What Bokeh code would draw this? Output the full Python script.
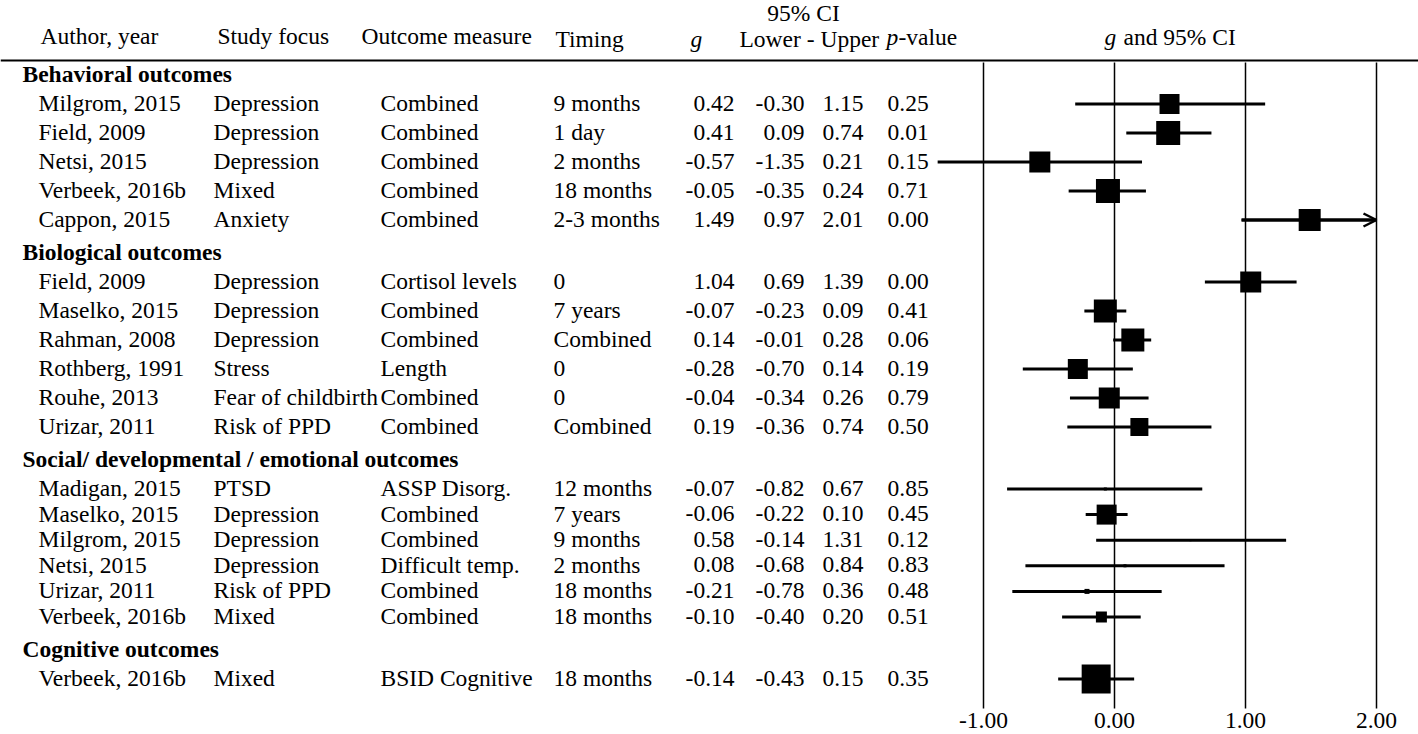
from bokeh.plotting import figure
from bokeh.models import Range1d, ColumnDataSource, Arrow, OpenHead
from bokeh.core.properties import value
from bokeh.embed import file_html
from bokeh.resources import INLINE

# ---------------- data ----------------
groups = ["Behavioral outcomes", "Biological outcomes",
          "Social/ developmental / emotional outcomes", "Cognitive outcomes"]
group_of_row = [0, 0, 0, 0, 0, 1, 1, 1, 1, 1, 1, 2, 2, 2, 2, 2, 2, 3]
authors = ["Milgrom, 2015", "Field, 2009", "Netsi, 2015", "Verbeek, 2016b", "Cappon, 2015",
           "Field, 2009", "Maselko, 2015", "Rahman, 2008", "Rothberg, 1991", "Rouhe, 2013",
           "Urizar, 2011", "Madigan, 2015", "Maselko, 2015", "Milgrom, 2015", "Netsi, 2015",
           "Urizar, 2011", "Verbeek, 2016b", "Verbeek, 2016b"]
focus = ["Depression", "Depression", "Depression", "Mixed", "Anxiety",
         "Depression", "Depression", "Depression", "Stress", "Fear of childbirth",
         "Risk of PPD", "PTSD", "Depression", "Depression", "Depression",
         "Risk of PPD", "Mixed", "Mixed"]
outcome = ["Combined", "Combined", "Combined", "Combined", "Combined",
           "Cortisol levels", "Combined", "Combined", "Length", "Combined",
           "Combined", "ASSP Disorg.", "Combined", "Combined", "Difficult temp.",
           "Combined", "Combined", "BSID Cognitive"]
timing = ["9 months", "1 day", "2 months", "18 months", "2-3 months",
          "0", "7 years", "Combined", "0", "0",
          "Combined", "12 months", "7 years", "9 months", "2 months",
          "18 months", "18 months", "18 months"]
g_vals = [0.42, 0.41, -0.57, -0.05, 1.49, 1.04, -0.07, 0.14, -0.28, -0.04,
          0.19, -0.07, -0.06, 0.58, 0.08, -0.21, -0.10, -0.14]
lower = [-0.30, 0.09, -1.35, -0.35, 0.97, 0.69, -0.23, -0.01, -0.70, -0.34,
         -0.36, -0.82, -0.22, -0.14, -0.68, -0.78, -0.40, -0.43]
upper = [1.15, 0.74, 0.21, 0.24, 2.01, 1.39, 0.09, 0.28, 0.14, 0.26,
         0.74, 0.67, 0.10, 1.31, 0.84, 0.36, 0.20, 0.15]
p_vals = [0.25, 0.01, 0.15, 0.71, 0.00, 0.00, 0.41, 0.06, 0.19, 0.79,
          0.50, 0.85, 0.45, 0.12, 0.83, 0.48, 0.51, 0.35]
weights = [20, 24, 21, 24, 22, 21, 23, 23, 20, 21, 18, 3, 20, 2, 3, 5, 11, 29]
ticks = [-1.0, 0.0, 1.0, 2.0]
tick_labels = ["-1.00", "0.00", "1.00", "2.00"]

# ---------------- layout ----------------
W, H = 1418, 734
PX0, PX_UNIT = 1114.0, 131.0          # pixel of g=0, pixels per unit g
FONT = value("Liberation Serif")
FS = "23.5px"
AX_MAX = 2.0

# row vertical positions (pixel space)
pitch = [29.0, 29.0, 25.6, 29.0]
head_y, row_y = [], []
cur = 74.0
for gi in range(len(groups)):
    if gi > 0:
        cur += 32.5
    head_y.append(cur)
    first = True
    for r, grp in enumerate(group_of_row):
        if grp != gi:
            continue
        cur += 29.5 if first else pitch[gi]
        first = False
        row_y.append(cur)

TXT_DY = -1.0
row_t = [y + TXT_DY for y in row_y]
head_t = [y + TXT_DY for y in head_y]

p = figure(width=W, height=H, output_backend="svg", toolbar_location=None,
           x_range=Range1d((0 - PX0) / PX_UNIT, (W - PX0) / PX_UNIT),
           y_range=Range1d(H, 0),
           x_axis_location=None, y_axis_location=None, min_border=0,
           outline_line_color=None)
p.extra_x_ranges = {"px": Range1d(0, W)}
p.grid.grid_line_color = None
p.background_fill_color = "white"
p.border_fill_color = "white"


def txt(x, y, t, align="left", style="normal", rng="px"):
    p.text(x=x, y=y, text=t, x_range_name=rng, text_font=FONT, text_font_size=FS,
           text_font_style=style, text_align=align, text_baseline="middle",
           text_color="black")


# header
txt([40], [35.5], ["Author, year"])
txt([217], [35.5], ["Study focus"])
txt([361], [35.5], ["Outcome measure"])
txt([555], [38.5], ["Timing"])
txt([690], [38.5], ["g"], style="italic")
txt([803], [12.5], ["95% CI"], align="center")
txt([739], [38.5], ["Lower - Upper"])
txt([886], [36.5], ["p"], style="italic")
txt([898], [36.5], ["-value"])
txt([1104], [36], ["g"], style="italic")
txt([1123], [36], ["and 95% CI"])

# header rule
p.line(x=[0, W], y=[60, 60], x_range_name="px", line_color="black", line_width=2)

# group headers
txt([22] * len(groups), head_t, groups, style="bold")

# table columns
n = len(authors)
txt([38] * n, row_t, authors)
txt([213] * n, row_t, focus)
txt([380] * n, row_t, outcome)
txt([553] * n, row_t, timing)
txt([734] * n, row_t, [f"{v:.2f}" for v in g_vals], align="right")
txt([804] * n, row_t, [f"{v:.2f}" for v in lower], align="right")
txt([863] * n, row_t, [f"{v:.2f}" for v in upper], align="right")
txt([887] * n, row_t, [f"{v:.2f}" for v in p_vals])

# reference vertical lines
p.segment(x0=ticks, x1=ticks, y0=[62] * len(ticks), y1=[708] * len(ticks),
          line_color="black", line_width=1.5)

# tick labels
p.text(x=ticks, y=[720] * len(ticks), text=tick_labels, text_font=FONT, text_font_size=FS,
       text_align="center", text_baseline="middle", text_color="black")

# confidence intervals
up_clip = [min(u, AX_MAX) for u in upper]
src = ColumnDataSource(dict(g=g_vals, lo=lower, up=up_clip, y=row_y, w=weights))
p.segment(x0="lo", x1="up", y0="y", y1="y", source=src, line_color="black", line_width=3)
for i, u in enumerate(upper):
    if u > AX_MAX:
        p.add_layout(Arrow(end=OpenHead(size=13, line_width=2.5, line_color="black"),
                           x_start=lower[i], y_start=row_y[i], x_end=AX_MAX, y_end=row_y[i],
                           line_width=3, line_color="black"))

# effect-size squares
p.scatter(x="g", y="y", size="w", marker="square", source=src,
          fill_color="black", line_color=None)

open("out.html", "w").write(file_html(p, INLINE))
